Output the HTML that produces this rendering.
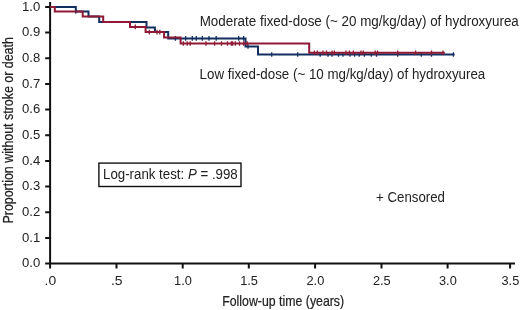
<!DOCTYPE html>
<html><head><meta charset="utf-8"><style>
html,body{margin:0;padding:0;background:#fff;width:520px;height:310px;overflow:hidden}
svg{display:block;will-change:transform}
</style></head><body>

<svg width="520" height="310" viewBox="0 0 520 310">
<path d="M50.1 2.0V263.6H515M45.2 6.90H50.1M45.2 32.57H50.1M45.2 58.24H50.1M45.2 83.91H50.1M45.2 109.58H50.1M45.2 135.25H50.1M45.2 160.92H50.1M45.2 186.59H50.1M45.2 212.26H50.1M45.2 237.93H50.1M45.2 263.60H50.1M50.10 263.6V268.4M116.50 263.6V268.4M182.70 263.6V268.4M248.80 263.6V268.4M315.10 263.6V268.4M381.50 263.6V268.4M447.60 263.6V268.4M510.10 263.6V268.4" stroke="#111" stroke-width="2" fill="none"/>
<path d="M50.1 6.9 L75.8 6.9 L75.8 11.5 L88.5 11.5 L88.5 16.5 L99.2 16.5 L99.2 21.9 L146.5 21.9 L146.5 27.5 L154.9 27.5 L154.9 32.1 L168.2 32.1 L168.2 38.4 L245.5 38.4 L245.5 46.5 L258.0 46.5 L258.0 54.5 L454.6 54.5" stroke="#112f5f" stroke-width="2" fill="none"/>
<path d="M75.8 9.2V13.8M248.0 44.2V48.8M271.7 52.2V56.8M297.7 52.2V56.8M320.2 52.2V56.8M328.0 52.2V56.8M332.0 52.2V56.8M338.5 52.2V56.8M343.0 52.2V56.8M350.0 52.2V56.8M354.6 52.2V56.8M359.2 52.2V56.8M364.4 52.2V56.8M371.3 52.2V56.8M376.5 52.2V56.8M397.7 52.2V56.8M421.3 52.2V56.8M431.5 52.2V56.8M453.4 52.2V56.8M175.4 36.1V40.7M185.7 36.1V40.7M192.3 36.1V40.7M196.3 36.1V40.7M202.3 36.1V40.7M209.0 36.1V40.7M216.2 36.1V40.7M238.7 36.1V40.7M243.6 36.1V40.7" stroke="#112f5f" stroke-width="1.3" fill="none"/>
<path d="M50.1 6.9 L54.8 6.9 L54.8 11.5 L82.7 11.5 L82.7 16.5 L103.2 16.5 L103.2 21.9 L130.0 21.9 L130.0 26.9 L145.6 26.9 L145.6 32.1 L164.1 32.1 L164.1 37.5 L180.6 37.5 L180.6 43.5 L309.2 43.5 L309.2 52.7 L444.8 52.7" stroke="#8e1a36" stroke-width="2" fill="none"/>
<path d="M135.3 24.6V29.2M149.3 29.8V34.4M157.0 29.8V34.4M159.8 29.8V34.4M314.4 50.4V55.0M317.3 50.4V55.0M323.0 50.4V55.0M326.5 50.4V55.0M332.1 50.4V55.0M334.4 50.4V55.0M346.0 50.4V55.0M349.4 50.4V55.0M353.4 50.4V55.0M361.0 50.4V55.0M363.3 50.4V55.0M375.2 50.4V55.0M377.5 50.4V55.0M397.7 50.4V55.0M415.6 50.4V55.0M431.5 50.4V55.0M443.0 50.4V55.0M183.3 41.2V45.8M187.2 41.2V45.8M190.2 41.2V45.8M205.9 41.2V45.8M214.6 41.2V45.8M221.5 41.2V45.8M227.5 41.2V45.8M231.3 41.2V45.8M232.6 41.2V45.8M235.3 41.2V45.8M239.5 41.2V45.8M243.6 41.2V45.8M247.2 41.2V45.8" stroke="#8e1a36" stroke-width="1.3" fill="none"/>
<text x="40.3" y="10.70" text-anchor="end" font-family='"Liberation Sans", sans-serif' font-size="12.6" fill="#222" textLength="18.2" lengthAdjust="spacingAndGlyphs">1.0</text>
<text x="40.3" y="36.37" text-anchor="end" font-family='"Liberation Sans", sans-serif' font-size="12.6" fill="#222" textLength="18.2" lengthAdjust="spacingAndGlyphs">0.9</text>
<text x="40.3" y="62.04" text-anchor="end" font-family='"Liberation Sans", sans-serif' font-size="12.6" fill="#222" textLength="18.2" lengthAdjust="spacingAndGlyphs">0.8</text>
<text x="40.3" y="87.71" text-anchor="end" font-family='"Liberation Sans", sans-serif' font-size="12.6" fill="#222" textLength="18.2" lengthAdjust="spacingAndGlyphs">0.7</text>
<text x="40.3" y="113.38" text-anchor="end" font-family='"Liberation Sans", sans-serif' font-size="12.6" fill="#222" textLength="18.2" lengthAdjust="spacingAndGlyphs">0.6</text>
<text x="40.3" y="139.05" text-anchor="end" font-family='"Liberation Sans", sans-serif' font-size="12.6" fill="#222" textLength="18.2" lengthAdjust="spacingAndGlyphs">0.5</text>
<text x="40.3" y="164.72" text-anchor="end" font-family='"Liberation Sans", sans-serif' font-size="12.6" fill="#222" textLength="18.2" lengthAdjust="spacingAndGlyphs">0.4</text>
<text x="40.3" y="190.39" text-anchor="end" font-family='"Liberation Sans", sans-serif' font-size="12.6" fill="#222" textLength="18.2" lengthAdjust="spacingAndGlyphs">0.3</text>
<text x="40.3" y="216.06" text-anchor="end" font-family='"Liberation Sans", sans-serif' font-size="12.6" fill="#222" textLength="18.2" lengthAdjust="spacingAndGlyphs">0.2</text>
<text x="40.3" y="241.73" text-anchor="end" font-family='"Liberation Sans", sans-serif' font-size="12.6" fill="#222" textLength="18.2" lengthAdjust="spacingAndGlyphs">0.1</text>
<text x="40.3" y="267.40" text-anchor="end" font-family='"Liberation Sans", sans-serif' font-size="12.6" fill="#222" textLength="18.2" lengthAdjust="spacingAndGlyphs">0.0</text>
<text x="50.40" y="284.7" text-anchor="middle" font-family='"Liberation Sans", sans-serif' font-size="13" fill="#222" textLength="11.6" lengthAdjust="spacingAndGlyphs">.0</text>
<text x="116.80" y="284.7" text-anchor="middle" font-family='"Liberation Sans", sans-serif' font-size="13" fill="#222" textLength="11.6" lengthAdjust="spacingAndGlyphs">.5</text>
<text x="183.00" y="284.7" text-anchor="middle" font-family='"Liberation Sans", sans-serif' font-size="13" fill="#222" textLength="17.8" lengthAdjust="spacingAndGlyphs">1.0</text>
<text x="249.10" y="284.7" text-anchor="middle" font-family='"Liberation Sans", sans-serif' font-size="13" fill="#222" textLength="17.8" lengthAdjust="spacingAndGlyphs">1.5</text>
<text x="315.40" y="284.7" text-anchor="middle" font-family='"Liberation Sans", sans-serif' font-size="13" fill="#222" textLength="17.8" lengthAdjust="spacingAndGlyphs">2.0</text>
<text x="381.80" y="284.7" text-anchor="middle" font-family='"Liberation Sans", sans-serif' font-size="13" fill="#222" textLength="17.8" lengthAdjust="spacingAndGlyphs">2.5</text>
<text x="447.90" y="284.7" text-anchor="middle" font-family='"Liberation Sans", sans-serif' font-size="13" fill="#222" textLength="17.8" lengthAdjust="spacingAndGlyphs">3.0</text>
<text x="510.40" y="284.7" text-anchor="middle" font-family='"Liberation Sans", sans-serif' font-size="13" fill="#222" textLength="17.8" lengthAdjust="spacingAndGlyphs">3.5</text>
<text x="199.65" y="25.9" font-family='"Liberation Sans", sans-serif' font-size="14" fill="#222"  textLength="319.16" lengthAdjust="spacingAndGlyphs">Moderate fixed-dose (~ 20 mg/kg/day) of hydroxyurea</text>
<text x="199.55" y="78.6" font-family='"Liberation Sans", sans-serif' font-size="14" fill="#222"  textLength="285.75" lengthAdjust="spacingAndGlyphs">Low fixed-dose (~ 10 mg/kg/day) of hydroxyurea</text>
<text x="103.0" y="178.6" font-family='"Liberation Sans", sans-serif' font-size="13.8" fill="#222"  textLength="134.75" lengthAdjust="spacingAndGlyphs">Log-rank test: <tspan font-style="italic">P</tspan> = .998</text>
<text x="376.1" y="201.8" font-family='"Liberation Sans", sans-serif' font-size="14" fill="#222"  textLength="68.89" lengthAdjust="spacingAndGlyphs">+ Censored</text>
<text x="222.22" y="305.9" font-family='"Liberation Sans", sans-serif' font-size="14.5" fill="#222" stroke="#222" stroke-width="0.22" textLength="121.91" lengthAdjust="spacingAndGlyphs">Follow-up time (years)</text>
<text transform="translate(13.0 223.54) rotate(-90)" x="0" y="0" font-family='"Liberation Sans", sans-serif' font-size="14.5" fill="#222" stroke="#222" stroke-width="0.22" textLength="186.37" lengthAdjust="spacingAndGlyphs">Proportion without stroke or death</text>
<rect x="98.9" y="163.1" width="142.10" height="23.40" fill="none" stroke="#111" stroke-width="1.4"/>
</svg>
</body></html>
